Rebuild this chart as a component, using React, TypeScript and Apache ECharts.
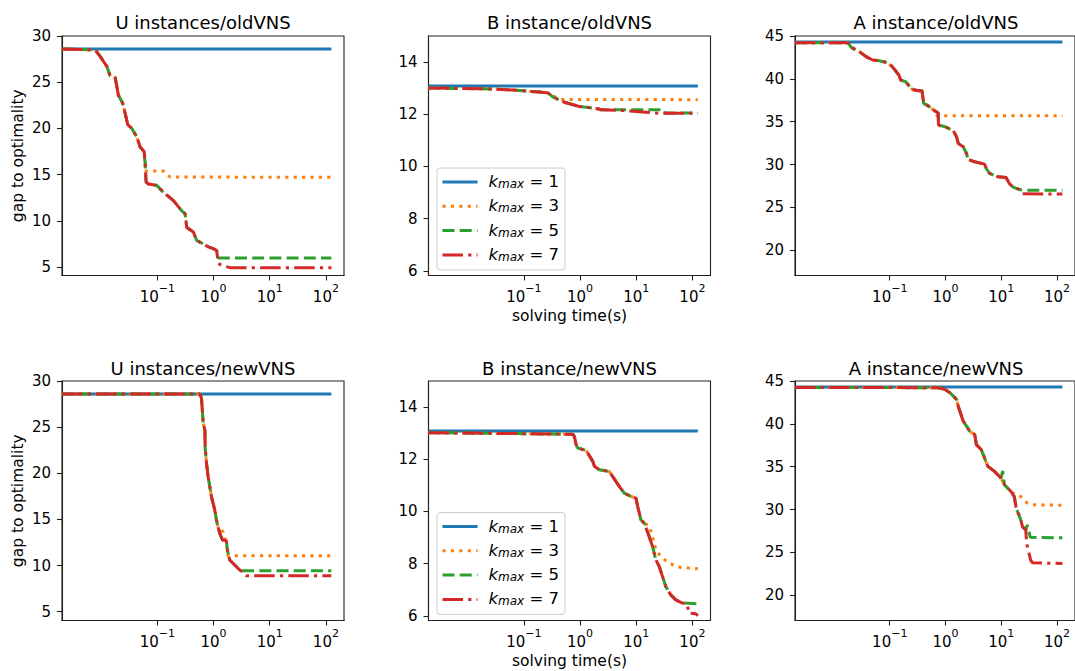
import React, { useEffect, useRef } from 'react';
import * as echarts from 'echarts';

const FONT = 'DejaVu Sans';
const NAMES = ['k1', 'k3', 'k5', 'k7'];
const LEGEND_K = ['1', '3', '5', '7'];
const COLORS = ['#1f77b4', '#ff7f0e', '#2ca02c', '#d62728'];
const DASHES: any[] = ['solid', [3.2, 5.2], [12, 5.2], [20.5, 5.2, 3.2, 5.2]];
const TITLES = ['U instances/oldVNS', 'B instance/oldVNS', 'A instance/oldVNS', 'U instances/newVNS', 'B instance/newVNS', 'A instance/newVNS'];
const X_TICK_EXP = [-1, 0, 1, 2];
const U_Y_TICKS = [5, 10, 15, 20, 25, 30];
const B_Y_TICKS = [6, 8, 10, 12, 14];
const A_Y_TICKS = [20, 25, 30, 35, 40, 45];

// ---- U instances / oldVNS ----
const uOldT1 = [0.002, 125];
const uOldV1 = [28.6, 28.6];
const uOldT3 = [0.002, 0.0078, 0.00955, 0.0126, 0.0144, 0.0177, 0.0202, 0.0242, 0.0297, 0.035, 0.0429, 0.0492, 0.058, 0.0604, 0.0629, 0.128, 0.1466, 0.168, 125];
const uOldV3 = [28.6, 28.5, 27.8, 26.7, 25.7, 25.5, 23.6, 22.7, 20.4, 20.0, 19.1, 18.0, 17.5, 16.6, 15.4, 15.4, 15.1, 14.75, 14.72];
const uOldT5 = [0.002, 0.0078, 0.00955, 0.0126, 0.0144, 0.0177, 0.0202, 0.0242, 0.0297, 0.035, 0.0429, 0.0492, 0.058, 0.0604, 0.0629, 0.0692, 0.0973, 0.128, 0.193, 0.271, 0.31, 0.333, 0.437, 0.5, 0.658, 0.807, 0.99, 1.135, 1.216, 125];
const uOldV5 = [28.6, 28.5, 27.8, 26.7, 25.7, 25.5, 23.6, 22.7, 20.4, 20.0, 19.1, 18.0, 17.5, 16.2, 14.2, 14.0, 13.85, 13.1, 12.2, 11.1, 10.8, 9.3, 8.8, 7.9, 7.5, 7.2, 7.0, 6.8, 6.0, 6.0];
const uOldT7 = [0.002, 0.0078, 0.00955, 0.0126, 0.0144, 0.0177, 0.0202, 0.0242, 0.0297, 0.035, 0.0429, 0.0492, 0.058, 0.0604, 0.0629, 0.0692, 0.0973, 0.128, 0.193, 0.271, 0.31, 0.333, 0.437, 0.5, 0.658, 0.807, 0.99, 1.135, 1.216, 1.39, 1.96, 125];
const uOldV7 = [28.6, 28.5, 27.8, 26.7, 25.7, 25.5, 23.6, 22.7, 20.4, 20.0, 19.1, 18.0, 17.5, 16.2, 14.2, 14.0, 13.85, 13.1, 12.2, 11.1, 10.8, 9.3, 8.8, 7.9, 7.5, 7.2, 7.0, 6.8, 5.4, 5.2, 4.95, 4.95];

// ---- B instance / oldVNS ----
const bOldT1 = [0.002, 125];
const bOldV1 = [13.08, 13.08];
const bOldT3 = [0.002, 0.0282, 0.073, 0.19, 0.267, 0.305, 0.375, 0.46, 125];
const bOldV3 = [13.01, 12.97, 12.92, 12.85, 12.82, 12.75, 12.65, 12.57, 12.56];
const bOldT5 = [0.002, 0.0282, 0.073, 0.19, 0.267, 0.327, 0.43, 0.564, 0.972, 1.68, 2.2, 2.36, 31.4, 32.7, 125];
const bOldV5 = [13.01, 12.97, 12.92, 12.85, 12.82, 12.67, 12.54, 12.44, 12.3, 12.24, 12.2, 12.17, 12.17, 12.05, 12.05];
const bOldT7 = [0.002, 0.0282, 0.073, 0.19, 0.267, 0.327, 0.43, 0.564, 0.972, 1.68, 2.2, 2.36, 5.7, 14.8, 25.6, 125];
const bOldV7 = [13.01, 12.97, 12.92, 12.85, 12.82, 12.67, 12.54, 12.44, 12.3, 12.24, 12.2, 12.17, 12.14, 12.08, 12.04, 12.04];

// ---- A instance / oldVNS ----
const aOldT1 = [0.002, 125];
const aOldV1 = [44.3, 44.3];
const aOldT3 = [0.002, 0.0178, 0.0204, 0.0286, 0.0376, 0.0493, 0.0647, 0.091, 0.111, 0.146, 0.157, 0.192, 0.252, 0.331, 0.379, 0.406, 0.498, 0.61, 0.7, 125];
const aOldV3 = [44.22, 44.22, 43.68, 43.17, 42.59, 42.2, 42.12, 41.88, 41.42, 40.44, 39.86, 39.67, 38.77, 38.61, 38.61, 37.13, 36.82, 36.36, 35.7, 35.7];
const aOldT5 = [0.002, 0.0178, 0.0204, 0.0286, 0.0376, 0.0493, 0.0647, 0.091, 0.111, 0.146, 0.157, 0.192, 0.252, 0.331, 0.379, 0.406, 0.498, 0.61, 0.74, 0.748, 0.99, 1.38, 1.58, 1.69, 2.08, 2.38, 2.55, 3.34, 5.02, 5.38, 6.17, 8.66, 12.2, 13.9, 16, 20.9, 25.7, 125];
const aOldV5 = [44.22, 44.22, 43.68, 43.17, 42.59, 42.2, 42.12, 41.88, 41.42, 40.44, 39.86, 39.67, 38.77, 38.61, 38.61, 37.13, 36.82, 36.36, 36.0, 34.6, 34.41, 33.94, 33.24, 32.46, 32.07, 31.29, 30.59, 30.32, 30.05, 29.54, 28.96, 28.57, 28.49, 27.8, 27.4, 27.09, 27.0, 27.0];
const aOldT7 = [0.002, 0.0178, 0.0204, 0.0286, 0.0376, 0.0493, 0.0647, 0.091, 0.111, 0.146, 0.157, 0.192, 0.252, 0.331, 0.379, 0.406, 0.498, 0.61, 0.74, 0.748, 0.99, 1.38, 1.58, 1.69, 2.08, 2.38, 2.55, 3.34, 5.02, 5.38, 6.17, 8.66, 12.2, 13.9, 16, 20.9, 24, 125];
const aOldV7 = [44.22, 44.22, 43.68, 43.17, 42.59, 42.2, 42.12, 41.88, 41.42, 40.44, 39.86, 39.67, 38.77, 38.61, 38.61, 37.13, 36.82, 36.36, 36.0, 34.6, 34.41, 33.94, 33.24, 32.46, 32.07, 31.29, 30.59, 30.32, 30.05, 29.54, 28.96, 28.57, 28.49, 27.8, 27.4, 27.09, 26.6, 26.55];

// ---- U instances / newVNS ----
const uNewT1 = [0.002, 125];
const uNewV1 = [28.6, 28.6];
const uNewT3 = [0.002, 0.57, 0.61, 0.653, 0.70, 0.71, 0.748, 0.80, 0.857, 0.918, 1.05, 1.125, 1.2, 1.48, 1.69, 1.81, 125];
const uNewV3 = [28.6, 28.6, 28.12, 25.41, 24.69, 22.7, 21.08, 19.63, 18.55, 17.46, 16.02, 14.93, 14.21, 13.67, 12.4, 11.07, 11.07];
const uNewT5 = [0.002, 0.57, 0.61, 0.653, 0.70, 0.71, 0.748, 0.80, 0.857, 0.918, 1.05, 1.125, 1.2, 1.29, 1.44, 1.69, 1.76, 1.94, 2.38, 2.92, 3.1, 125];
const uNewV5 = [28.6, 28.6, 28.12, 25.41, 24.69, 22.7, 21.08, 19.63, 18.55, 17.46, 16.02, 14.93, 14.21, 13.49, 12.77, 12.7, 11.68, 10.6, 10.06, 9.52, 9.44, 9.44];
const uNewT7 = [0.002, 0.57, 0.61, 0.653, 0.70, 0.71, 0.748, 0.80, 0.857, 0.918, 1.05, 1.125, 1.2, 1.29, 1.44, 1.69, 1.76, 1.94, 2.38, 2.92, 3.57, 3.8, 125];
const uNewV7 = [28.6, 28.6, 28.12, 25.41, 24.69, 22.7, 21.08, 19.63, 18.55, 17.46, 16.02, 14.93, 14.21, 13.49, 12.77, 12.7, 11.68, 10.6, 10.06, 9.52, 9.15, 8.9, 8.9];

// ---- B instance / newVNS ----
const bNewT1 = [0.002, 125];
const bNewV1 = [13.08, 13.08];
const bNewT3 = [0.002, 0.74, 0.79, 0.85, 0.91, 1.28, 1.47, 1.68, 1.8, 2.2, 3.32, 3.8, 4.99, 6.12, 8.04, 9.87, 10.6, 12.1, 13.9, 17, 19.5, 22.3, 27.4, 38.5, 54, 125];
const bNewV3 = [13.02, 12.96, 12.88, 12.56, 12.43, 12.34, 12.13, 11.92, 11.73, 11.6, 11.53, 11.34, 10.96, 10.7, 10.58, 10.51, 10.19, 9.68, 9.55, 9.45, 9.04, 8.53, 8.27, 8.02, 7.87, 7.8];
const bNewT5 = [0.002, 0.74, 0.79, 0.85, 0.91, 1.28, 1.47, 1.68, 1.8, 2.2, 3.32, 3.8, 4.99, 6.12, 8.04, 9.87, 10.6, 12.1, 13.9, 15.3, 17, 19.5, 22.3, 25.6, 29.3, 33.6, 41.2, 50.6, 66.4, 125];
const bNewV5 = [13.02, 12.96, 12.88, 12.56, 12.43, 12.34, 12.13, 11.92, 11.73, 11.6, 11.53, 11.34, 10.96, 10.7, 10.58, 10.51, 10.19, 9.68, 9.55, 9.3, 9.04, 8.66, 8.15, 7.9, 7.51, 7.12, 6.8, 6.61, 6.49, 6.46];
const bNewT7 = [0.002, 0.74, 0.79, 0.85, 0.91, 1.28, 1.47, 1.68, 1.8, 2.2, 3.32, 3.8, 4.99, 6.12, 8.04, 9.87, 10.6, 12.1, 13.9, 15.3, 17, 19.5, 22.3, 25.6, 29.3, 33.6, 41.2, 50.6, 66.4, 80, 87, 115, 125];
const bNewV7 = [13.02, 12.96, 12.88, 12.56, 12.43, 12.34, 12.13, 11.92, 11.73, 11.6, 11.53, 11.34, 10.96, 10.7, 10.58, 10.51, 10.19, 9.68, 9.55, 9.3, 9.04, 8.66, 8.15, 7.9, 7.51, 7.12, 6.8, 6.61, 6.49, 6.46, 6.1, 6.08, 6.0];

// ---- A instance / newVNS ----
const aNewT1 = [0.002, 125];
const aNewV1 = [44.3, 44.3];
const aNewT3 = [0.002, 0.748, 0.98, 1.2, 1.38, 1.58, 1.69, 1.81, 2.08, 2.38, 2.72, 3.34, 3.57, 4.38, 5.02, 5.76, 7.56, 9.9, 11.4, 13, 14.9, 18.3, 22.4, 29.4, 36.1, 125];
const aNewV3 = [44.25, 44.22, 44.02, 43.63, 43.24, 42.85, 42.07, 41.48, 40.31, 39.73, 39.14, 38.75, 37.58, 36.99, 36.02, 35.04, 34.45, 33.67, 32.89, 32.5, 32.11, 31.72, 31.52, 30.74, 30.55, 30.5];
const aNewT5 = [0.002, 0.748, 0.98, 1.2, 1.38, 1.58, 1.69, 1.81, 2.08, 2.38, 2.72, 3.34, 3.57, 4.38, 5.02, 5.76, 7.56, 9.9, 10.6, 11.4, 13, 14.9, 17.1, 18.3, 19.6, 22.4, 24, 27.5, 29.4, 31.5, 33, 125];
const aNewV5 = [44.25, 44.22, 44.02, 43.63, 43.24, 42.85, 42.07, 41.48, 40.31, 39.73, 39.14, 38.75, 37.58, 36.99, 36.02, 35.04, 34.45, 33.67, 34.5, 32.89, 32.5, 32.11, 31.52, 30.35, 29.77, 28.79, 28.0, 27.62, 28.2, 27.42, 26.76, 26.7];
const aNewT7 = [0.002, 0.748, 0.98, 1.2, 1.38, 1.58, 1.69, 1.81, 2.08, 2.38, 2.72, 3.34, 3.57, 4.38, 5.02, 5.76, 7.56, 9.9, 11.4, 13, 14.9, 17.1, 18.3, 19.6, 22.4, 24, 27.5, 28.5, 33.7, 36.1, 125];
const aNewV7 = [44.25, 44.22, 44.02, 43.63, 43.24, 42.85, 42.07, 41.48, 40.31, 39.73, 39.14, 38.75, 37.58, 36.99, 36.02, 35.04, 34.45, 33.67, 32.89, 32.5, 32.11, 31.52, 30.35, 29.77, 28.79, 28.0, 27.62, 26.05, 24.1, 23.79, 23.7];

const PANELS = [
  { t: [uOldT1, uOldT3, uOldT5, uOldT7], v: [uOldV1, uOldV3, uOldV5, uOldV7], ymin: 4.1, ymax: 30, yt: U_Y_TICKS },
  { t: [bOldT1, bOldT3, bOldT5, bOldT7], v: [bOldV1, bOldV3, bOldV5, bOldV7], ymin: 5.82, ymax: 15, yt: B_Y_TICKS },
  { t: [aOldT1, aOldT3, aOldT5, aOldT7], v: [aOldV1, aOldV3, aOldV5, aOldV7], ymin: 17.05, ymax: 45, yt: A_Y_TICKS },
  { t: [uNewT1, uNewT3, uNewT5, uNewT7], v: [uNewV1, uNewV3, uNewV5, uNewV7], ymin: 4.05, ymax: 30, yt: U_Y_TICKS },
  { t: [bNewT1, bNewT3, bNewT5, bNewT7], v: [bNewV1, bNewV3, bNewV5, bNewV7], ymin: 5.82, ymax: 15, yt: B_Y_TICKS },
  { t: [aNewT1, aNewT3, aNewT5, aNewT7], v: [aNewV1, aNewV3, aNewV5, aNewV7], ymin: 17.05, ymax: 45, yt: A_Y_TICKS },
];

const COL_LEFT = [62, 428.5, 795];
const ROW_TOP = [36, 381];
const GW = 282;
const GH = 239.5;

export default function App() {
  const ref = useRef<HTMLDivElement>(null);
  useEffect(() => {
    if (!ref.current) return;
    const chart = echarts.init(ref.current, undefined, { renderer: 'svg' });
    const xTicks = X_TICK_EXP.map((e) => Math.pow(10, e));
    const grids: any[] = [];
    const xAxes: any[] = [];
    const yAxes: any[] = [];
    const series: any[] = [];
    const titles: any[] = [];
    const legends: any[] = [];
    PANELS.forEach((p, i) => {
      const col = i % 3;
      const row = Math.floor(i / 3);
      const left = COL_LEFT[col];
      const top = ROW_TOP[row];
      grids.push({ left, top, width: GW, height: GH, show: true, borderColor: '#222', borderWidth: 1.1, backgroundColor: 'transparent' });
      xAxes.push({
        type: 'log', logBase: 10, gridIndex: i, min: 0.002, max: 210,
        axisLine: { show: true, lineStyle: { color: '#222', width: 1.1 } },
        axisTick: { show: true, customValues: xTicks, length: 5, lineStyle: { color: '#222', width: 1.1 } },
        minorTick: { show: false },
        splitLine: { show: false },
        axisLabel: {
          customValues: xTicks, margin: 7, color: '#000',
          formatter: (val: number) => {
            const e = Math.round(Math.log10(val));
            const s = e < 0 ? '\u2212' + (-e) : String(e);
            return `{b|10}{p|${s}}`;
          },
          rich: {
            b: { fontFamily: FONT, fontSize: 15, lineHeight: 22, verticalAlign: 'bottom', color: '#000' },
            p: { fontFamily: FONT, fontSize: 11, lineHeight: 11, verticalAlign: 'top', color: '#000' },
          },
        },
        name: col === 1 ? 'solving time(s)' : '',
        nameLocation: 'middle', nameGap: 32,
        nameTextStyle: { fontFamily: FONT, fontSize: 15.5, color: '#000' },
      });
      yAxes.push({
        type: 'value', gridIndex: i, min: p.ymin, max: p.ymax,
        axisLine: { show: true, lineStyle: { color: '#222', width: 1.1 } },
        axisTick: { show: true, customValues: p.yt, length: 5, lineStyle: { color: '#222', width: 1.1 } },
        splitLine: { show: false },
        axisLabel: { customValues: p.yt, margin: 11, color: '#000', fontFamily: FONT, fontSize: 15 },
        name: col === 0 ? 'gap to optimality' : '',
        nameLocation: 'middle', nameGap: 36, nameRotate: 90,
        nameTextStyle: { fontFamily: FONT, fontSize: 15.5, color: '#000' },
      });
      titles.push({
        text: TITLES[i], left: left + GW / 2, top: row === 0 ? 11 : 357.5, textAlign: 'center', padding: 0,
        textStyle: { fontFamily: FONT, fontSize: 18, fontWeight: 'normal', color: '#000', lineHeight: 22 },
      });
      for (let k = 0; k < 4; k++) {
        series.push({
          type: 'line', name: NAMES[k], xAxisIndex: i, yAxisIndex: i,
          data: p.t[k].map((t, j) => [t, p.v[k][j]]),
          showSymbol: false, symbol: 'none',
          lineStyle: { color: COLORS[k], width: 3, type: DASHES[k], cap: 'butt' },
          itemStyle: { color: COLORS[k] },
          z: 2 + k,
        });
      }
      if (col === 1) {
        legends.push({
          orient: 'vertical', left: 437, top: row === 0 ? 168 : 512.5,
          data: NAMES, selectedMode: false,
          itemWidth: 35, itemHeight: 16, itemGap: 7.3,
          padding: [5, 6, 7, 4],
          backgroundColor: 'rgba(255,255,255,0.8)', borderColor: '#cccccc', borderWidth: 1, borderRadius: 3,
          itemStyle: { opacity: 0 },
          lineStyle: { width: 3 },
          formatter: (name: string) => `{k|k}{s|max}{n| = ${LEGEND_K[NAMES.indexOf(name)]}}`,
          textStyle: {
            color: '#000', fontFamily: FONT, fontSize: 16,
            rich: {
              k: { fontFamily: FONT, fontSize: 16.5, fontStyle: 'italic', lineHeight: 16, verticalAlign: 'bottom', padding: [0, 0, 0, 6], color: '#000' },
              s: { fontFamily: FONT, fontSize: 12, fontStyle: 'italic', lineHeight: 6, verticalAlign: 'bottom', color: '#000' },
              n: { fontFamily: FONT, fontSize: 16.5, lineHeight: 16, verticalAlign: 'bottom', color: '#000' },
            },
          },
        });
      }
    });
    chart.setOption({
      animation: false,
      backgroundColor: '#fff',
      title: titles,
      legend: legends,
      grid: grids,
      xAxis: xAxes,
      yAxis: yAxes,
      series,
    });
    return () => chart.dispose();
  }, []);
  return <div ref={ref} style={{ position: 'absolute', left: 0, top: 0, width: 1075, height: 671 }} />;
}
